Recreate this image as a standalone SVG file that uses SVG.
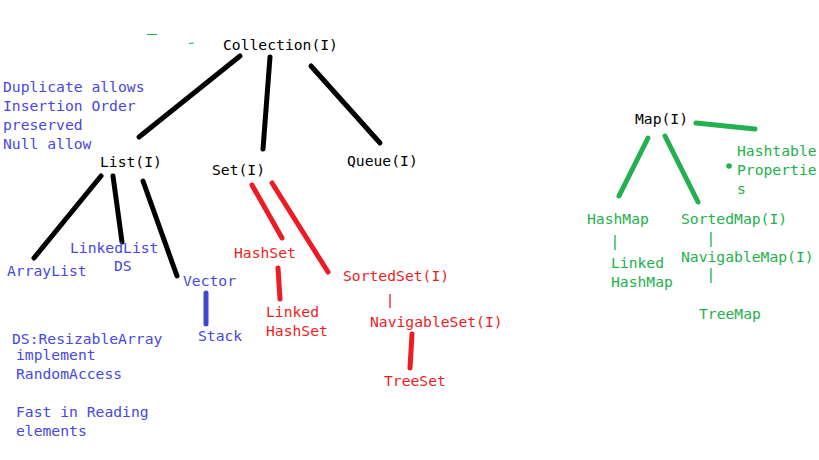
<svg xmlns="http://www.w3.org/2000/svg" width="819" height="460" viewBox="0 0 819 460">
<style>
text{font-family:"DejaVu Sans Mono","Liberation Mono",monospace;font-size:14.7px}
.k{fill:#000}
.b{fill:#4848e0}
.r{fill:#ed1c24}
.g{fill:#22b14c}
.lk{stroke:#000;stroke-width:5;stroke-linecap:round;fill:none}
.lr{stroke:#ed1c24;stroke-width:5;stroke-linecap:round;fill:none}
.lb{stroke:#3f48cc;stroke-width:5;stroke-linecap:round;fill:none}
.lg{stroke:#22b14c;stroke-width:5;stroke-linecap:round;fill:none}
.tr{stroke:#ed1c24;stroke-width:1.3;fill:none}
.tg{stroke:#22b14c;stroke-width:1.3;fill:none}
</style>
<rect width="819" height="460" fill="#fff"/>
<g id="connectors">
<line class="lk" x1="240" y1="56" x2="139" y2="137"/>
<line class="lk" x1="270" y1="57" x2="263" y2="149"/>
<line class="lk" x1="311" y1="66" x2="380" y2="143"/>
<line class="lk" x1="101" y1="176" x2="34" y2="258"/>
<line class="lk" x1="113" y1="176" x2="122" y2="242"/>
<line class="lk" x1="143" y1="181" x2="177" y2="276"/>
<line class="lb" x1="206" y1="293" x2="206" y2="324"/>
<line class="lr" x1="252" y1="185" x2="282" y2="238"/>
<line class="lr" x1="272" y1="183" x2="328" y2="272"/>
<line class="lr" x1="278" y1="268" x2="280" y2="299"/>
<line class="lr" x1="412" y1="334" x2="410" y2="368"/>
<line class="tr" x1="390" y1="294" x2="390" y2="308"/>
<line class="lg" x1="696" y1="123" x2="755" y2="129"/>
<line class="lg" x1="648" y1="138" x2="619" y2="196"/>
<line class="lg" x1="665" y1="136" x2="698" y2="202"/>
<circle cx="729" cy="166" r="2.8" fill="#22b14c"/>
<line class="tg" x1="615" y1="235" x2="615" y2="250"/>
<line class="tg" x1="711" y1="232" x2="711" y2="247"/>
<line class="tg" x1="711" y1="268" x2="711" y2="283"/>
<line x1="147" y1="34.5" x2="157" y2="34.5" stroke="#22b14c" stroke-width="1"/>
<line x1="189" y1="43.5" x2="194" y2="43" stroke="#22b14c" stroke-width="1.2"/>
</g>
<g id="collection"><text class="k" x="223" y="50">Collection(I)</text></g>
<g id="list-note">
<text class="b" x="3" y="92">Duplicate allows</text>
<text class="b" x="3" y="111">Insertion Order</text>
<text class="b" x="3" y="130">preserved</text>
<text class="b" x="3" y="149">Null allow</text>
</g>
<g id="list"><text class="k" x="100" y="167">List(I)</text></g>
<g id="set"><text class="k" x="212" y="175">Set(I)</text></g>
<g id="queue"><text class="k" x="347" y="166">Queue(I)</text></g>
<g id="arraylist"><text class="b" x="7" y="276">ArrayList</text></g>
<g id="linkedlist"><text class="b" x="70" y="253">LinkedList</text><text class="b" x="114" y="271">DS</text></g>
<g id="vector"><text class="b" x="183" y="286">Vector</text></g>
<g id="stack"><text class="b" x="198" y="341">Stack</text></g>
<g id="arraylist-note">
<text class="b" x="12" y="344">DS:ResizableArray</text>
<text class="b" x="16" y="360">implement</text>
<text class="b" x="16" y="379">RandomAccess</text>
<text class="b" x="16" y="417">Fast in Reading</text>
<text class="b" x="16" y="436">elements</text>
</g>
<g id="hashset"><text class="r" x="234" y="258">HashSet</text></g>
<g id="linkedhashset"><text class="r" x="266" y="317">Linked</text><text class="r" x="266" y="336">HashSet</text></g>
<g id="sortedset"><text class="r" x="343" y="281">SortedSet(I)</text></g>
<g id="navigableset"><text class="r" x="370" y="327">NavigableSet(I)</text></g>
<g id="treeset"><text class="r" x="384" y="386">TreeSet</text></g>
<g id="map"><text class="k" x="635" y="124">Map(I)</text></g>
<g id="hashtable"><text class="g" x="737" y="156">Hashtable</text><text class="g" x="737" y="175">Propertie</text><text class="g" x="737" y="194">s</text></g>
<g id="hashmap"><text class="g" x="587" y="224">HashMap</text></g>
<g id="linkedhashmap"><text class="g" x="611" y="268">Linked</text><text class="g" x="611" y="287">HashMap</text></g>
<g id="sortedmap"><text class="g" x="681" y="224">SortedMap(I)</text></g>
<g id="navigablemap"><text class="g" x="681" y="262">NavigableMap(I)</text></g>
<g id="treemap"><text class="g" x="699" y="319">TreeMap</text></g>
</svg>
